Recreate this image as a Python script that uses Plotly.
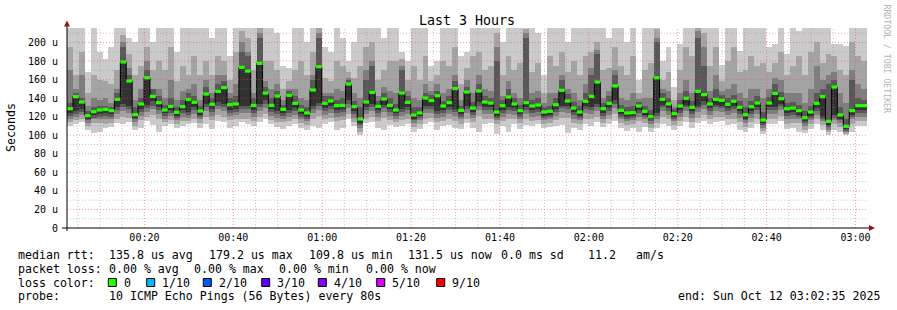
import plotly.graph_objects as go
import pandas as pd

# ---------------- data ----------------
START = "2025-10-12 00:02:35"
END = "2025-10-12 03:02:35"
STEP_S = 80

median = [128.6, 141.6, 135.8, 121.1, 125.4, 127.2, 127.9, 126.5, 138.7, 179.0,
          158.5, 122.2, 133.7, 162.0, 141.9, 135.1, 127.2, 131.1, 124.7, 130.8,
          138.7, 135.5, 126.1, 144.4, 133.3, 147.3, 151.3, 132.9, 133.7, 173.2,
          169.2, 132.2, 177.5, 145.5, 132.2, 142.3, 127.9, 143.0, 134.4, 127.2,
          124.0, 148.8, 173.9, 134.4, 136.9, 131.9, 132.2, 155.2, 130.8, 117.5,
          135.8, 146.2, 131.1, 139.1, 132.2, 127.2, 145.5, 135.5, 121.8, 124.0,
          140.1, 137.3, 142.6, 131.5, 135.1, 150.2, 126.8, 146.6, 129.3, 147.7,
          135.8, 134.7, 125.0, 131.9, 141.2, 133.7, 126.5, 135.1, 131.5, 132.6,
          125.0, 125.8, 132.9, 148.4, 136.9, 129.3, 125.0, 136.6, 141.9, 157.4,
          128.6, 134.4, 153.1, 126.8, 124.0, 124.3, 131.5, 125.8, 120.0, 162.0,
          138.7, 133.7, 123.2, 131.5, 139.8, 130.1, 147.3, 143.7, 133.7, 138.7,
          137.6, 133.3, 136.6, 130.1, 122.2, 130.8, 134.7, 116.4, 134.7, 145.1,
          139.4, 128.6, 129.3, 126.5, 118.9, 125.0, 134.4, 141.6, 115.0, 152.0,
          121.8, 109.6, 126.5, 131.9, 131.9]

p10 = [218, 218, 218, 168, 218, 190, 182, 195, 218, 218,
       205, 200, 218, 218, 200, 218, 218, 218, 190, 218,
       218, 218, 218, 218, 205, 218, 218, 185, 218, 218,
       218, 218, 218, 218, 218, 210, 175, 172, 218, 218,
       200, 218, 218, 195, 190, 218, 205, 180, 200, 218,
       218, 218, 218, 205, 218, 218, 190, 180, 218, 218,
       218, 175, 180, 218, 218, 218, 185, 190, 218, 218,
       218, 218, 218, 200, 218, 218, 218, 218, 218, 210,
       165, 218, 218, 218, 200, 218, 218, 218, 218, 218,
       218, 205, 218, 218, 200, 218, 160, 218, 218, 218,
       180, 195, 152, 198, 218, 218, 218, 218, 218, 218,
       176, 218, 218, 191, 218, 218, 218, 218, 195, 198,
       218, 188, 218, 212, 218, 218, 218, 218, 218, 198,
       198, 196, 218, 218, 218]

p9 = [195, 165, 190, 145, 165, 160, 158, 155, 170, 208,
      188, 165, 175, 195, 170, 180, 170, 195, 158, 175,
      165, 185, 165, 180, 165, 185, 180, 160, 190, 212,
      205, 170, 216, 180, 180, 170, 150, 158, 170, 180,
      165, 190, 216, 162, 158, 180, 175, 168, 162, 175,
      195, 200, 160, 170, 180, 180, 182, 160, 175, 160,
      185, 158, 165, 180, 175, 195, 155, 172, 185, 190,
      170, 175, 210, 165, 185, 170, 178, 214, 168, 178,
      145, 185, 175, 190, 168, 180, 165, 185, 190, 200,
      170, 172, 195, 175, 165, 185, 145, 170, 178, 214,
      160, 168, 138, 170, 195, 185, 216, 210, 175, 195,
      158, 180, 195, 168, 170, 185, 175, 178, 168, 178,
      190, 165, 175, 185, 165, 190, 200, 178, 188, 185,
      170, 165, 200, 185, 180]

p8 = [170, 150, 165, 132, 140, 138, 140, 135, 150, 200,
      172, 138, 150, 180, 150, 150, 140, 160, 138, 148,
      150, 155, 138, 160, 145, 165, 165, 145, 155, 200,
      190, 145, 210, 158, 150, 155, 138, 150, 150, 140,
      138, 165, 210, 145, 145, 150, 148, 162, 145, 140,
      170, 180, 142, 152, 148, 145, 175, 148, 140, 138,
      155, 148, 155, 145, 150, 165, 138, 160, 145, 165,
      150, 148, 195, 142, 158, 145, 140, 210, 145, 148,
      135, 145, 145, 165, 150, 145, 138, 155, 172, 192,
      140, 148, 170, 140, 138, 145, 139, 140, 140, 205,
      150, 148, 130, 145, 160, 145, 212, 195, 148, 165,
      148, 150, 155, 145, 140, 150, 150, 140, 150, 162,
      160, 145, 145, 145, 135, 150, 175, 160, 165, 168,
      145, 135, 170, 155, 150]

p7 = [135, 145, 140, 126, 130, 131, 132, 130, 145, 195,
      165, 130, 140, 170, 150, 142, 133, 140, 130, 138,
      145, 142, 132, 152, 140, 155, 158, 140, 142, 190,
      185, 140, 205, 152, 140, 148, 133, 148, 142, 133,
      130, 160, 205, 142, 142, 138, 140, 160, 137, 130,
      160, 175, 137, 145, 140, 134, 170, 142, 130, 130,
      145, 143, 148, 137, 142, 158, 132, 152, 136, 155,
      142, 140, 180, 138, 150, 140, 133, 205, 138, 140,
      130, 132, 140, 160, 144, 136, 131, 145, 165, 188,
      135, 142, 165, 133, 130, 131, 136, 132, 127, 200,
      145, 140, 128, 138, 148, 137, 205, 175, 140, 150,
      143, 140, 143, 137, 130, 137, 142, 125, 141, 155,
      147, 135, 136, 133, 126, 132, 145, 150, 155, 160,
      130, 118, 160, 140, 138]

p5 = [124, 126, 128, 118, 122, 123, 124, 123, 130, 134,
      132, 119, 128, 133, 137, 130, 124, 127, 121, 127,
      125, 130, 122, 134, 128, 136, 134, 127, 128, 132,
      132, 127, 134, 138, 128, 126, 124, 127, 129, 123,
      120, 132, 135, 129, 131, 127, 128, 138, 126, 113,
      130, 134, 127, 133, 128, 124, 128, 130, 118, 121,
      132, 131, 126, 127, 130, 128, 123, 131, 125, 136,
      130, 130, 121, 127, 130, 129, 123, 130, 127, 128,
      121, 122, 128, 132, 131, 125, 121, 131, 130, 134,
      124, 129, 138, 123, 120, 121, 127, 122, 117, 124,
      133, 129, 120, 127, 133, 126, 132, 137, 129, 133,
      132, 129, 131, 126, 118, 126, 130, 113, 130, 130,
      134, 124, 125, 122, 115, 121, 129, 120, 111, 122,
      118, 107, 122, 127, 127]

p4 = [121, 123, 125, 116, 119, 120, 121, 120, 127, 130,
      128, 117, 125, 129, 132, 127, 121, 124, 119, 124,
      122, 127, 120, 130, 125, 132, 130, 124, 125, 128,
      128, 124, 130, 134, 125, 123, 121, 124, 126, 120,
      118, 128, 131, 126, 128, 124, 125, 134, 123, 111,
      127, 130, 124, 129, 125, 121, 125, 127, 116, 119,
      128, 128, 123, 124, 127, 125, 120, 128, 122, 132,
      127, 127, 119, 124, 127, 126, 120, 127, 124, 125,
      119, 120, 125, 129, 128, 122, 119, 128, 127, 130,
      121, 126, 134, 120, 118, 119, 124, 120, 115, 121,
      130, 126, 118, 124, 130, 123, 129, 133, 126, 130,
      129, 126, 128, 123, 116, 123, 127, 111, 127, 127,
      131, 121, 122, 120, 113, 119, 126, 118, 109, 119,
      116, 105, 120, 124, 124]

p3 = [118, 120, 122, 113, 117, 118, 117, 117, 123, 126,
      124, 114, 121, 125, 128, 123, 118, 121, 116, 120,
      119, 123, 117, 126, 121, 128, 126, 121, 122, 124,
      124, 120, 126, 129, 121, 119, 118, 120, 122, 117,
      115, 124, 127, 122, 124, 120, 121, 129, 119, 108,
      123, 126, 120, 125, 121, 118, 121, 123, 113, 116,
      124, 124, 119, 120, 123, 121, 117, 124, 119, 127,
      123, 123, 116, 120, 123, 122, 117, 123, 120, 121,
      116, 117, 121, 125, 124, 118, 116, 124, 123, 126,
      118, 122, 129, 117, 115, 116, 120, 117, 112, 118,
      126, 122, 115, 120, 126, 119, 125, 128, 122, 126,
      125, 122, 124, 119, 113, 119, 123, 108, 123, 123,
      127, 117, 118, 117, 110, 116, 122, 115, 106, 116,
      113, 103, 117, 120, 120]

p2 = [114, 116, 118, 110, 113, 113, 112, 113, 118, 120,
      119, 110, 116, 120, 122, 117, 114, 116, 112, 115,
      115, 118, 113, 120, 116, 122, 120, 116, 117, 118,
      118, 115, 120, 123, 116, 114, 114, 115, 117, 113,
      111, 118, 121, 117, 119, 115, 116, 123, 114, 104,
      118, 120, 115, 119, 116, 114, 116, 117, 109, 112,
      118, 119, 114, 115, 117, 115, 112, 118, 114, 121,
      118, 118, 112, 115, 117, 117, 113, 117, 115, 116,
      112, 113, 116, 119, 119, 113, 112, 118, 117, 120,
      113, 117, 123, 113, 111, 112, 115, 113, 108, 113,
      120, 117, 111, 115, 120, 114, 119, 122, 117, 120,
      120, 117, 118, 114, 109, 114, 118, 105, 118, 118,
      121, 112, 113, 113, 106, 112, 117, 111, 103, 112,
      109, 101, 112, 115, 115]

p1 = [110, 112, 114, 106, 102, 104, 108, 109, 113, 112,
      114, 106, 108, 115, 111, 104, 110, 112, 108, 110,
      112, 113, 108, 112, 107, 115, 114, 108, 110, 114,
      112, 110, 114, 118, 112, 109, 107, 110, 112, 108,
      106, 110, 108, 112, 114, 106, 108, 117, 110, 100,
      113, 114, 108, 106, 111, 109, 110, 112, 104, 107,
      112, 114, 106, 110, 111, 108, 107, 113, 108, 104,
      112, 113, 101, 110, 104, 112, 107, 111, 110, 112,
      108, 109, 110, 111, 102, 108, 106, 112, 110, 114,
      109, 112, 115, 108, 105, 108, 104, 109, 104, 108,
      112, 110, 106, 110, 114, 108, 113, 115, 112, 114,
      115, 111, 112, 106, 104, 108, 112, 101, 112, 112,
      115, 107, 108, 103, 102, 107, 112, 106, 100, 106,
      104, 100, 103, 110, 110]

y_ticks = [0, 20, 40, 60, 80, 100, 120, 140, 160, 180, 200]
y_ticktext = ["0"] + [f"{v} u" for v in y_ticks[1:]]
x_ticks = ["00:20", "00:40", "01:00", "01:20", "01:40", "02:00", "02:20", "02:40", "03:00"]
Y_MAX = 215.6

legend_lines = [
    ("median rtt:", ["135.8 us avg", "179.2 us max", "109.8 us min", "131.5 us now", "0.0 ms sd", "11.2", "am/s"]),
    ("packet loss:", ["0.00 % avg", "0.00 % max", "0.00 % min", "0.00 % now"]),
]
loss_labels = ["0", "1/10", "2/10", "3/10", "4/10", "5/10", "9/10"]
loss_colors = ["#26ff00", "#00b8ff", "#0059ff", "#5e00ff", "#7e00ff", "#dd00ff", "#ff0000"]
probe_text = "10 ICMP Echo Pings (56 Bytes) every 80s"
end_text = "end: Sun Oct 12 03:02:35 2025"

# ---------------- geometry helpers (pixel -> paper) ----------------
W, H = 897, 310
L, T, PW, PH = 67, 28, 800, 200


def px(x):
    return (x - L) / PW


def py(y):
    return (T + PH - y) / PH


MONO = "DejaVu Sans Mono"

n = len(median)
t0 = pd.Timestamp(START)
starts = [t0 + pd.Timedelta(seconds=STEP_S * i) for i in range(n)]
ends = [s + pd.Timedelta(seconds=STEP_S) for s in starts]
centers = [s + pd.Timedelta(seconds=STEP_S / 2) for s in starts]

fig = go.Figure()

bands = [(p1, p10, "#cacaca"), (p2, p9, "#a4a4a4"), (p3, p8, "#7e7e7e"),
         (p4, p7, "#585858"), (p5, median, "#323232")]
for lo, hi, col in bands:
    fig.add_trace(go.Bar(
        x=centers, y=[h - l for l, h in zip(lo, hi)], base=lo,
        width=STEP_S * 1000, marker=dict(color=col, line=dict(width=0)),
        hoverinfo="skip", showlegend=False))

# black step line through medians
fig.add_trace(go.Scatter(
    x=starts + [ends[-1]], y=median + [median[-1]], mode="lines",
    line=dict(color="#000000", width=1, shape="hv"), hoverinfo="skip", showlegend=False))

# green median marks
gx, gy = [], []
for s, e, m in zip(starts, ends, median):
    gx += [s, e, None]
    gy += [m, m, None]
fig.add_trace(go.Scatter(x=gx, y=gy, mode="lines",
                         line=dict(color=loss_colors[0], width=3.2),
                         hoverinfo="skip", showlegend=False))

shapes = []
# horizontal grid (drawn above the smoke like rrdtool)
for v in range(10, int(Y_MAX) + 1, 10):
    major = v % 20 == 0
    shapes.append(dict(type="line", xref="paper", yref="y", x0=0, x1=1, y0=v, y1=v,
                       layer="above",
                       line=dict(color="rgba(240,70,70,0.55)" if major else "rgba(130,130,130,0.45)",
                                 width=1, dash="1px,2px")))
# vertical grid
tgrid = pd.date_range("2025-10-12 00:05", "2025-10-12 03:00", freq="5min")
for t in tgrid:
    major = t.minute % 20 == 0
    shapes.append(dict(type="line", xref="x", yref="paper", x0=t, x1=t, y0=0, y1=1,
                       layer="above",
                       line=dict(color="rgba(240,70,70,0.55)" if major else "rgba(130,130,130,0.45)",
                                 width=1, dash="1px,2px")))
# axes with arrows
shapes.append(dict(type="line", xref="paper", yref="paper", x0=px(62), x1=px(870), y0=0, y1=0,
                   layer="above", line=dict(color="black", width=1)))
shapes.append(dict(type="line", xref="paper", yref="paper", x0=0, x1=0, y0=py(231), y1=py(24),
                   layer="above", line=dict(color="black", width=1)))
shapes.append(dict(type="path", xref="paper", yref="paper", layer="above",
                   path=f"M {px(64)} {py(26.5)} L {px(70)} {py(26.5)} L {px(67)} {py(20.5)} Z",
                   fillcolor="#a01010", line=dict(color="#a01010", width=0)))
shapes.append(dict(type="path", xref="paper", yref="paper", layer="above",
                   path=f"M {px(869)} {py(225)} L {px(869)} {py(231)} L {px(875)} {py(228)} Z",
                   fillcolor="#a01010", line=dict(color="#a01010", width=0)))

annotations = []
LEG_FONT = dict(family=MONO, size=11.6, color="black")


def txt(x, y, s, anchor="left", font=LEG_FONT, angle=0):
    annotations.append(dict(xref="paper", yref="paper", x=px(x), y=py(y), text=s,
                            showarrow=False, xanchor=anchor, yanchor="middle",
                            borderpad=0, font=font, textangle=angle))


# legend line 1 and 2
row_y = [255, 268.5, 282.5, 296]
seg_x = [[107.7, 208, 308, 407, 500, 587, 635], [107.7, 193, 278, 365]]
for (label, parts), yy, xs in zip(legend_lines, row_y[:2], seg_x):
    txt(16.7, yy, label)
    for s, xx in zip(parts, xs):
        txt(xx, yy, s)

# loss colour row
txt(16.7, row_y[2], "loss color:")
sq_x = [108.3, 146.7, 203.3, 261.7, 318.3, 376.7, 436.7]
for lab, col, xx in zip(loss_labels, loss_colors, sq_x):
    shapes.append(dict(type="rect", xref="paper", yref="paper",
                       x0=px(xx), x1=px(xx + 8), y0=py(row_y[2] + 4), y1=py(row_y[2] - 4),
                       fillcolor=col, line=dict(color="black", width=1)))
    txt(xx + 14.5, row_y[2], lab)

# probe row
txt(16.7, row_y[3], "probe:")
txt(107.7, row_y[3], probe_text)
txt(880.5, row_y[3], end_text, anchor="right")

# y-axis title and watermark
txt(11, 127, "Seconds", anchor="center", angle=-90)
annotations.append(dict(xref="paper", yref="paper", x=px(886.5), y=py(59), text="RRDTOOL / TOBI OETIKER",
                        showarrow=False, xanchor="center", yanchor="middle", textangle=90,
                        font=dict(family=MONO, size=8.2, color="#b4b4b4")))

fig.update_layout(
    width=W, height=H,
    margin=dict(l=L, r=W - L - PW, t=T, b=H - T - PH, pad=0),
    paper_bgcolor="white", plot_bgcolor="white",
    barmode="overlay", bargap=0, showlegend=False,
    title=dict(text="Last 3 Hours", x=0.5, xanchor="center", xref="paper",
               y=1 - 20 / H, yref="container", yanchor="middle",
               font=dict(family=MONO, size=13.3, color="black")),
    xaxis=dict(type="date", range=[START, END], showgrid=False, zeroline=False,
               showline=False, ticks="",
               tickvals=[f"2025-10-12 {t}" for t in x_ticks], ticktext=x_ticks,
               tickfont=dict(family=MONO, size=10, color="black"), ticklabelstandoff=2),
    yaxis=dict(range=[0, Y_MAX], showgrid=False, zeroline=False, showline=False, ticks="",
               tickvals=y_ticks, ticktext=y_ticktext,
               tickfont=dict(family=MONO, size=10, color="black"), ticklabelstandoff=8),
    shapes=shapes, annotations=annotations,
)

fig.write_html("out.html")
